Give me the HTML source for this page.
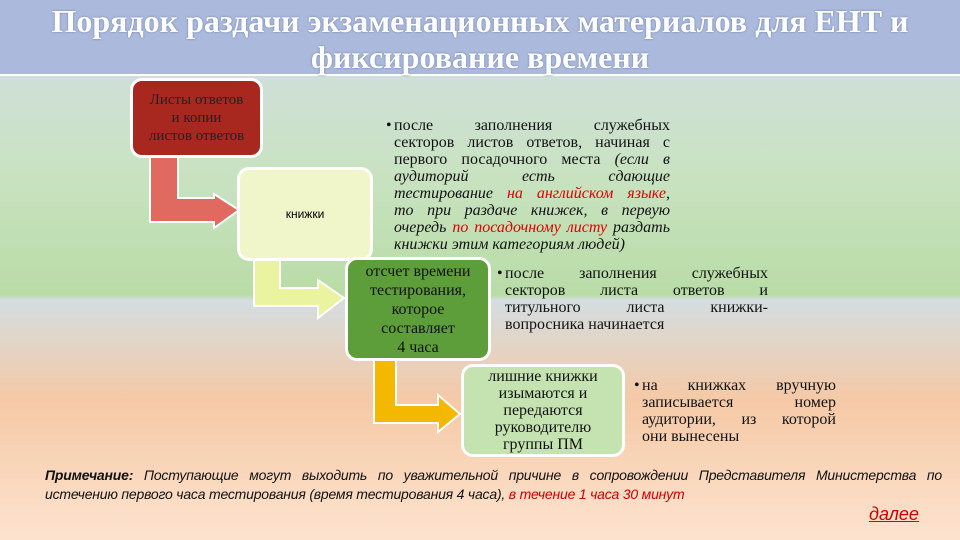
<!DOCTYPE html>
<html><head><meta charset="utf-8"><style>
body{margin:0;width:960px;height:540px;overflow:hidden;position:relative;font-family:"Liberation Serif",serif;
background:linear-gradient(180deg,#cfe0d8 75px,#c8e2c0 180px,#b9dca6 295px,#d4dde0 300px,#f5c9a6 400px,#fde3cf 540px);}
.title{position:absolute;left:0;top:0;width:960px;height:76px;background:#abbadc;color:#fff;text-align:center;font-weight:bold;font-size:32px;line-height:36px;padding-top:3px;box-sizing:border-box;text-shadow:0 0 2px #6a7aa0;border-bottom:2px solid #fff;white-space:nowrap}
.box{position:absolute;border:3px solid #fff;border-radius:12px;box-sizing:border-box;display:flex;align-items:center;justify-content:center;text-align:center;font-size:15px;line-height:18px}
.t{position:absolute;font-size:16px;line-height:17px;color:#111}
.t div{text-align:justify;text-align-last:justify;white-space:nowrap}
.t div.l{text-align-last:left}
.t:before{content:"•";position:absolute;left:-8px;top:0}
.r{color:#d00}
svg{position:absolute;left:0;top:0}
</style></head><body>
<div class="title">Порядок раздачи экзаменационных материалов для ЕНТ и<br>фиксирование времени</div>
<svg width="960" height="540">
<polygon points="150,155 178,155 178,198 214,198 214,194 239,210 214,228 214,222 150,222" fill="#e06a60" stroke="#fff" stroke-width="2"/>
<polygon points="254,258 280,258 280,288 318,288 318,280 344,298 318,318 318,306 254,306" fill="#eaf3a0" stroke="#fff" stroke-width="2"/>
<polygon points="374,358 396,358 396,405 438,405 438,395 460,414 438,432 438,423 374,423" fill="#f5b800" stroke="#fff" stroke-width="2"/>
</svg>
<div class="box" style="left:130px;top:78px;width:133px;height:80px;background:#a8281f;color:#222">Листы ответов<br>и копии<br>листов ответов</div>
<div class="box" style="left:237px;top:167px;width:136px;height:94px;background:#f1f6ca;font-family:'Liberation Sans',sans-serif;font-size:12px">книжки</div>
<div class="box" style="left:345px;top:257px;width:146px;height:104px;background:#5d9d3a;color:#111;line-height:19px;font-size:16px">отсчет времени<br>тестирования,<br>которое<br>составляет<br>4 часа</div>
<div class="box" style="left:461px;top:364px;width:164px;height:93px;background:#c5e3b1;color:#111;line-height:17px;font-size:16px">лишние книжки<br>изымаются и<br>передаются<br>руководителю<br>группы ПМ</div>
<div class="t" style="left:394px;top:117px;width:276px">
<div>после заполнения служебных</div>
<div>секторов листов ответов, начиная с</div>
<div>первого посадочного места <i>(если в</i></div>
<div><i>аудиторий есть сдающие</i></div>
<div><i>тестирование <span class="r">на английском языке</span>,</i></div>
<div><i>то при раздаче книжек, в первую</i></div>
<div><i>очередь <span class="r">по посадочному листу</span> раздать</i></div>
<div class="l"><i>книжки этим категориям людей)</i></div>
</div>
<div class="t" style="left:505px;top:265px;width:263px">
<div>после заполнения служебных</div>
<div>секторов листа ответов и</div>
<div>титульного листа книжки-</div>
<div class="l">вопросника начинается</div>
</div>
<div class="t" style="left:642px;top:377px;width:194px">
<div>на книжках вручную</div>
<div>записывается номер</div>
<div>аудитории, из которой</div>
<div class="l">они вынесены</div>
</div>
<div style="position:absolute;left:45px;top:466px;width:897px;font-family:'Liberation Sans',sans-serif;font-style:italic;font-size:14px;line-height:19px;color:#111">
<div style="text-align:justify;text-align-last:justify;white-space:nowrap;letter-spacing:-0.2px"><b>Примечание:</b> Поступающие могут выходить по уважительной причине в сопровождении Представителя Министерства по</div>
<div style="white-space:nowrap;letter-spacing:-0.2px">истечению первого часа тестирования (время тестирования 4 часа), <span style="color:#c00">в течение 1 часа 30 минут</span></div></div>
<div style="position:absolute;left:869px;top:504px;font-family:'Liberation Sans',sans-serif;font-style:italic;font-size:18px;color:#c00;text-decoration:underline">далее</div>
</body></html>
